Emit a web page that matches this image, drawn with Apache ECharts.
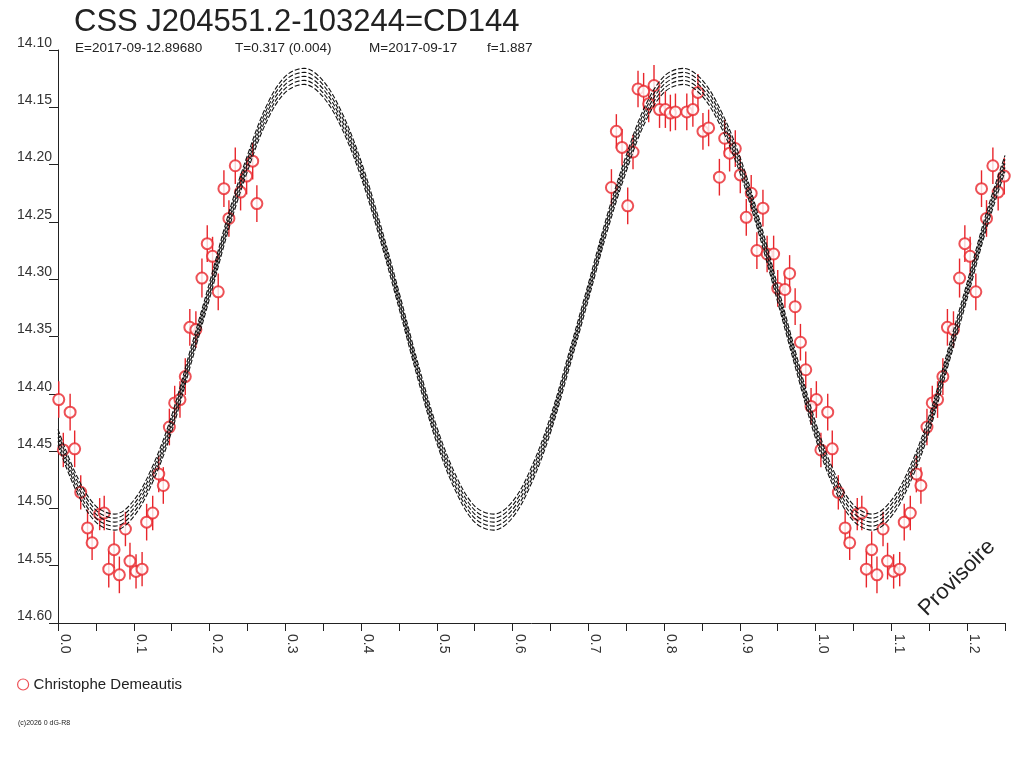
<!DOCTYPE html>
<html>
<head>
<meta charset="utf-8">
<title>CSS J204551.2-103244=CD144</title>
<script src="https://cdn.jsdelivr.net/npm/echarts@6/dist/echarts.min.js"></script>
<style>
  html, body { margin: 0; padding: 0; background: #fff; }
  #main { width: 1024px; height: 768px; }
</style>
</head>
<body>
<div id="main"></div>
<script>
// observations folded on the period (phase 0..1), magnitude and error
var obsPhase = [
  0.001, 0.007, 0.016, 0.022, 0.030, 0.039, 0.045, 0.055, 0.061, 0.067,
  0.074, 0.081, 0.089, 0.095, 0.103, 0.111, 0.117, 0.125, 0.133, 0.139,
  0.147, 0.154, 0.161, 0.168, 0.174, 0.182, 0.190, 0.197, 0.204, 0.2115,
  0.219, 0.2256, 0.234, 0.241, 0.249, 0.257, 0.2625,
  0.7305, 0.737, 0.7445, 0.752, 0.759, 0.7656, 0.773, 0.7797, 0.7867, 0.794,
  0.8017, 0.8083, 0.815, 0.830, 0.838, 0.8447, 0.8513, 0.8588, 0.873, 0.880,
  0.8865, 0.894, 0.9006, 0.9085, 0.915, 0.9225, 0.9305, 0.936, 0.9446, 0.950,
  0.9595, 0.9657, 0.973, 0.980, 0.987, 0.994
];
var obsMag = [
  14.405, 14.449, 14.416, 14.448, 14.486, 14.517, 14.530, 14.505, 14.504, 14.553,
  14.536, 14.558, 14.518, 14.546, 14.555, 14.553, 14.512, 14.504, 14.470, 14.480,
  14.429, 14.408, 14.405, 14.385, 14.342, 14.344, 14.299, 14.269, 14.280, 14.311,
  14.221, 14.247, 14.201, 14.224, 14.210, 14.197, 14.234,
  14.220, 14.171, 14.185, 14.236, 14.189, 14.134, 14.136, 14.147, 14.131, 14.152,
  14.152, 14.155, 14.154, 14.154, 14.152, 14.137, 14.171, 14.168, 14.211, 14.177,
  14.190, 14.186, 14.209, 14.246, 14.225, 14.275, 14.238, 14.278, 14.278, 14.308,
  14.309, 14.295, 14.324, 14.355, 14.379, 14.411
];
var obsErr = [
  0.016, 0.015, 0.016, 0.016, 0.015, 0.016, 0.015, 0.014, 0.015, 0.016,
  0.016, 0.016, 0.015, 0.016, 0.015, 0.015, 0.016, 0.015, 0.016, 0.016,
  0.016, 0.015, 0.016, 0.016, 0.016, 0.016, 0.017, 0.016, 0.017, 0.016,
  0.016, 0.016, 0.016, 0.016, 0.016, 0.016, 0.016,
  0.016, 0.015, 0.016, 0.016, 0.015, 0.016, 0.016, 0.016, 0.018, 0.016,
  0.016, 0.016, 0.016, 0.016, 0.015, 0.016, 0.016, 0.016, 0.016, 0.016,
  0.016, 0.016, 0.016, 0.016, 0.016, 0.016, 0.016, 0.016, 0.016, 0.016,
  0.016, 0.016, 0.016, 0.016, 0.016, 0.016
];

// fitted light curve, every 0.025 in phase
var fitPhase = [
  0.000, 0.025, 0.050, 0.075, 0.100, 0.125, 0.150, 0.175, 0.200, 0.225,
  0.250, 0.275, 0.300, 0.325, 0.350, 0.375, 0.400, 0.425, 0.450, 0.475,
  0.500, 0.525, 0.550, 0.575, 0.600, 0.625, 0.650, 0.675, 0.700, 0.725,
  0.750, 0.775, 0.800, 0.825, 0.850, 0.875, 0.900, 0.925, 0.950, 0.975,
  1.000, 1.025, 1.050, 1.075, 1.100, 1.125, 1.150, 1.175, 1.200, 1.225, 1.250
];
var fitMag = [
  14.438, 14.479, 14.505, 14.512, 14.500, 14.470, 14.426, 14.368, 14.310, 14.250,
  14.199, 14.156, 14.130, 14.123, 14.134, 14.162, 14.204, 14.258, 14.318, 14.380,
  14.436, 14.478, 14.505, 14.512, 14.501, 14.471, 14.427, 14.370, 14.311, 14.251,
  14.199, 14.156, 14.130, 14.123, 14.133, 14.160, 14.200, 14.253, 14.313, 14.374,
  14.432, 14.476, 14.504, 14.512, 14.500, 14.470, 14.426, 14.368, 14.310, 14.250, 14.199
];
// the five dashed curves sit this far from the central fit
var fitOffsets = [-0.007, -0.0035, 0, 0.0035, 0.007];

var titleText = 'CSS J204551.2-103244=CD144';
var infoText = ['E=2017-09-12.89680', 'T=0.317 (0.004)', 'M=2017-09-17', 'f=1.887'];
var observer = 'Christophe Demeautis';

var FONT = '"Liberation Sans", Arial, sans-serif';
var RED = '#e8262c';
var INK = '#222';

// fold: phases up to 0.25 are shown again after 1.0
var points = [];
for (var i = 0; i < obsPhase.length; i++) {
  points.push([obsPhase[i], obsMag[i], obsErr[i]]);
  if (obsPhase[i] <= 0.25)
    points.push([obsPhase[i] + 1, obsMag[i], obsErr[i]]);
}

var series = [];
fitOffsets.forEach(function (off, k) {
  var d = [];
  for (var j = 0; j < fitPhase.length; j++)
    d.push([fitPhase[j], fitMag[j] + off]);
  series.push({
    name: 'fit' + k,
    type: 'line',
    data: d,
    smooth: 0.35,
    showSymbol: false,
    silent: true,
    z: 5,
    lineStyle: { color: '#111', width: 1.1, type: [5, 2] }
  });
});

series.push({
  name: 'errors',
  type: 'custom',
  data: points,
  clip: true,
  z: 3,
  renderItem: function (params, api) {
    var x = api.value(0), y = api.value(1), e = api.value(2);
    var p1 = api.coord([x, y - e]);
    var p2 = api.coord([x, y + e]);
    return {
      type: 'line',
      shape: { x1: p1[0], y1: p1[1], x2: p2[0], y2: p2[1] },
      style: { stroke: RED, lineWidth: 1.4 }
    };
  }
});

series.push({
  name: observer,
  type: 'scatter',
  data: points,
  symbol: 'emptyCircle',
  symbolSize: 11,
  z: 4,
  itemStyle: { color: RED, borderColor: RED, borderWidth: 1.1 }
});

var infoX = [75, 235, 369, 487];
var graphics = [
  {
    type: 'text', left: 74, top: 7,
    style: { text: titleText, font: '31px ' + FONT, fill: INK }
  },
  {
    type: 'text', x: 957, y: 578, rotation: Math.PI / 4,
    style: { text: 'Provisoire', font: '22px ' + FONT, fill: INK, textAlign: 'center', textVerticalAlign: 'middle' }
  },
  {
    type: 'text', left: 18, top: 720,
    style: { text: '(c)2026 0 dG-R8', font: '7px ' + FONT, fill: INK }
  }
];

infoText.forEach(function (t, i) {
  graphics.push({
    type: 'text', left: infoX[i], top: 41,
    style: { text: t, font: '13.5px ' + FONT, fill: INK }
  });
});

var myChart = echarts.init(document.getElementById('main'));
var option = {
  animation: false,
  backgroundColor: '#fff',
  grid: { left: 58, right: 19, top: 50, bottom: 145, containLabel: false },
  legend: {
    data: [observer],
    left: 12, top: 672,
    icon: 'circle',
    itemWidth: 11, itemHeight: 11, itemGap: 6,
    textStyle: { fontFamily: FONT, fontSize: 15, color: INK },
    itemStyle: { color: '#fff', borderColor: RED, borderWidth: 1.2 },
    selectedMode: false
  },
  xAxis: {
    type: 'value',
    min: 0, max: 1.25, interval: 0.05,
    splitLine: { show: false },
    axisLine: { lineStyle: { color: INK, width: 1 } },
    axisTick: { length: 8, lineStyle: { color: INK } },
    axisLabel: {
      rotate: -90, margin: 11, verticalAlign: 'bottom',
      fontFamily: FONT, fontSize: 14, color: '#333',
      formatter: function (v) {
        var n = Math.round(v * 100);
        return n % 10 === 0 ? (n / 100).toFixed(1) : '';
      }
    }
  },
  yAxis: {
    type: 'value',
    inverse: true,
    min: 14.10, max: 14.60, interval: 0.05,
    splitLine: { show: false },
    axisLine: { show: true, lineStyle: { color: INK, width: 1 } },
    axisTick: { show: true, length: 9, lineStyle: { color: INK } },
    axisLabel: {
      margin: 6, verticalAlign: 'bottom',
      fontFamily: FONT, fontSize: 14, color: '#333',
      formatter: function (v) { return v.toFixed(2); }
    }
  },
  graphic: graphics,
  series: series
};
myChart.setOption(option);
</script>
</body>
</html>
